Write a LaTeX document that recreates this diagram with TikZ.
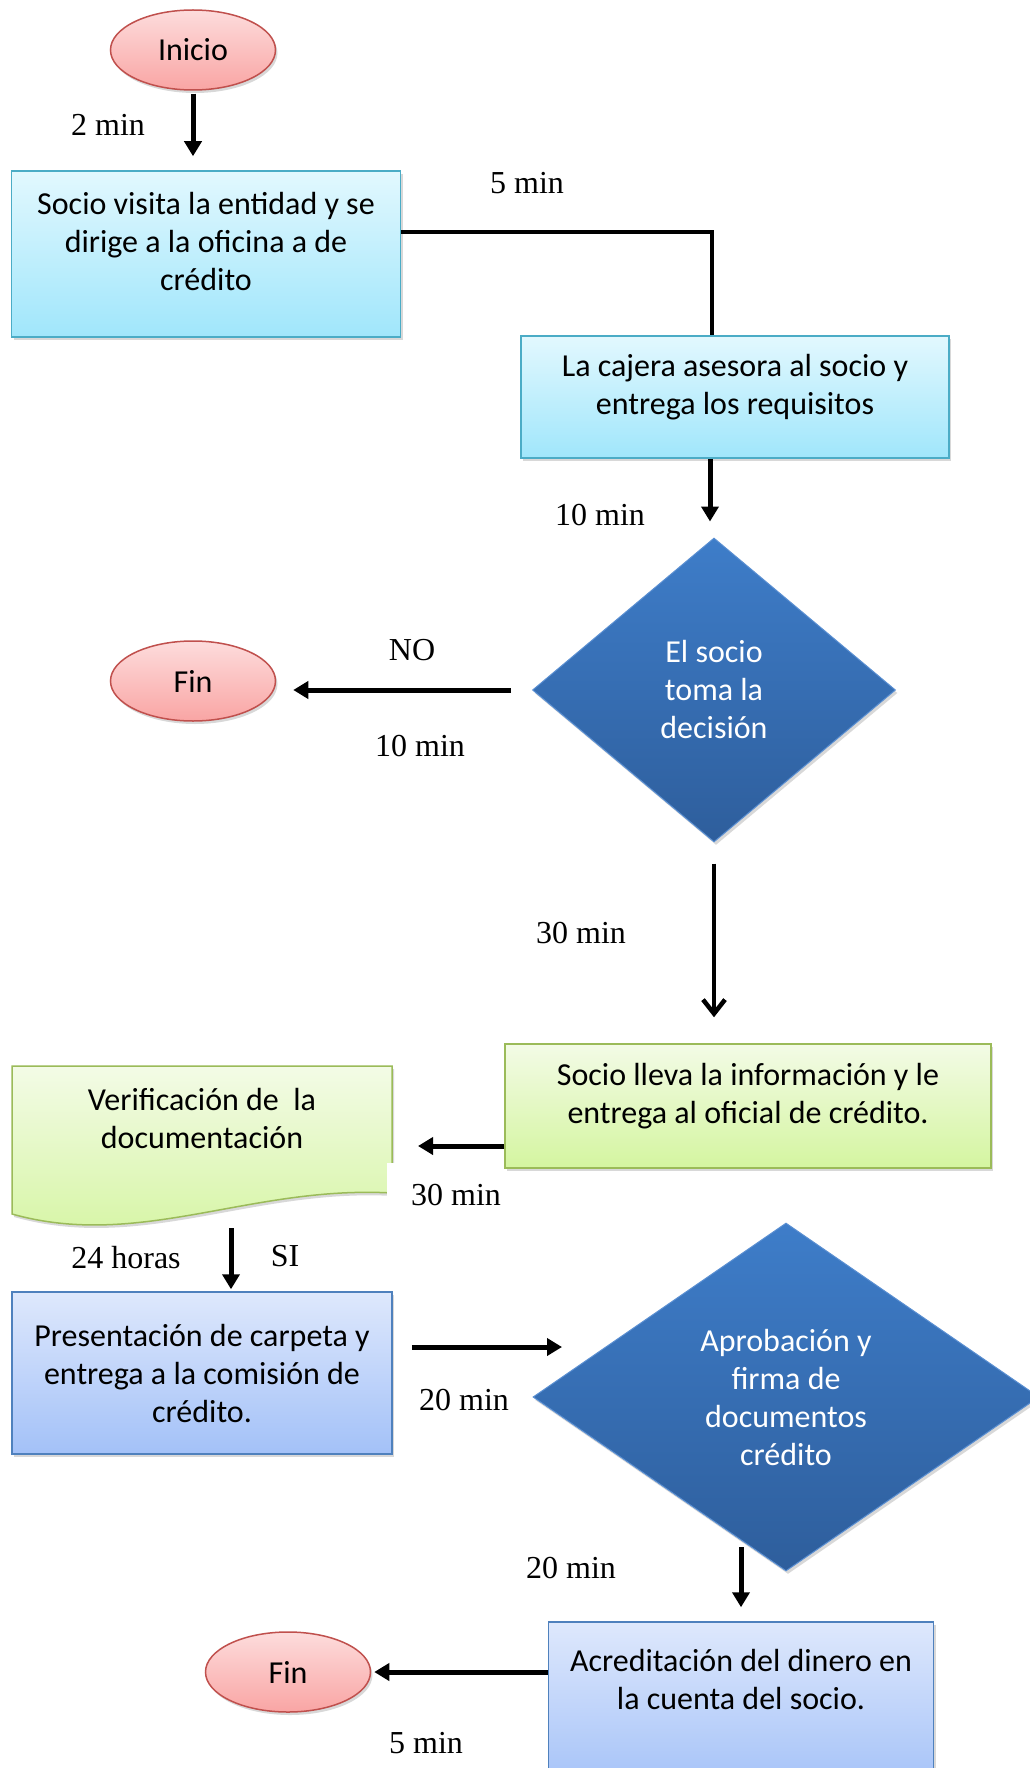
\documentclass[tikz,border=0pt]{standalone}
\usepackage{fontspec}
\setmainfont{Liberation Serif}
\newfontfamily\calibri{Carlito}
\usetikzlibrary{arrows.meta,positioning,shapes.geometric,shadows}
\definecolor{fpink}{HTML}{FDDCDC}
\definecolor{fpinkdk}{HTML}{F9A5A4}
\definecolor{fred}{HTML}{C0504D}
\definecolor{fcyan}{HTML}{E2F8FE}
\definecolor{fcyandk}{HTML}{A0E6FB}
\definecolor{fcyanbd}{HTML}{4BACC6}
\definecolor{fgreen}{HTML}{F3FBE6}
\definecolor{fgreendk}{HTML}{D4F5A0}
\definecolor{fgreenbd}{HTML}{9BBB59}
\definecolor{fblue}{HTML}{DEE8FC}
\definecolor{fbluedk}{HTML}{A3C1F8}
\definecolor{fbluebd}{HTML}{4F81BD}
\definecolor{fnavy}{HTML}{3E7DC9}
\definecolor{fnavydk}{HTML}{2E5E9C}
\definecolor{fnavybd}{HTML}{5A8FD2}

\begin{document}
\begin{tikzpicture}[x=1pt, y=-1pt,
    every node/.style={font=\fontsize{32}{38}\selectfont},
    boxshadow/.style={drop shadow={shadow xshift=2pt, shadow yshift=-3pt, opacity=0.3}},
    terminal/.style={ellipse, draw=fred, line width=1.5pt, top color=fpink, bottom color=fpinkdk, minimum width=165, minimum height=80, font=\calibri\fontsize{32}{38}\selectfont, boxshadow},
    cyanbox/.style={rectangle, draw=fcyanbd, line width=1.5pt, top color=fcyan, bottom color=fcyandk, boxshadow},
    greenbox/.style={rectangle, draw=fgreenbd, line width=1.5pt, top color=fgreen, bottom color=fgreendk, boxshadow},
    bluebox/.style={rectangle, draw=fbluebd, line width=1.5pt, top color=fblue, bottom color=fbluedk, boxshadow},
    decision/.style={diamond, draw=fnavybd, line width=1pt, top color=fnavy, bottom color=fnavydk, text=white, inner sep=0pt, align=center, font=\calibri\fontsize{32}{38}\selectfont, boxshadow},
    boxtext/.style={align=center, font=\calibri\fontsize{32}{38}\selectfont},
    arr/.style={-{Triangle[length=15pt, width=17pt]}, line width=5pt},
    barb/.style={-{Straight Barb[length=14pt, width=22pt]}, line width=4.5pt},
    conn/.style={line width=4.5pt}]
      \fill[white] (0,0) rectangle (1029,1768);
      \useasboundingbox (0,0) rectangle (1029,1768);

      % terminals
      \node[terminal] (inicio) at (193,50) {Inicio};
      \node[terminal] (fin1) at (193,681) {Fin};
      \node[terminal] (fin2) at (288,1672) {Fin};

      % document shape (its time label hides a corner of it)
      \path[draw=fgreenbd, line width=1.5pt, top color=fgreen, bottom color=fgreendk, boxshadow]
        (12,1066) -- (392,1066) -- (392,1193) .. controls (250,1185) and (140,1250) .. (12,1214) -- cycle;
      \node[boxtext] (verif) at (202,1118) {Verificación de\ \ la\\documentación};
      \node[fill=white, inner xsep=24pt, inner ysep=21pt] (t-lleva) at (456,1195) {30 min};

      % process boxes
      \node[cyanbox, minimum width=389, minimum height=166] (visita) at (206,254) {};
      \node[boxtext] (visita-t) at ([yshift=12pt]visita.center) {Socio visita la entidad y se\\dirige a la oficina a de\\crédito};
      \node[cyanbox, minimum width=428, minimum height=122] (cajera) at (735,397) {};
      \node[boxtext] (cajera-t) at ([yshift=10pt]cajera.center) {La cajera asesora al socio y\\entrega los requisitos};
      \node[greenbox, minimum width=486, minimum height=124] (lleva) at (748,1106) {};
      \node[boxtext] (lleva-t) at ([yshift=10pt]lleva.center) {Socio lleva la información y le\\entrega al oficial de crédito.};
      \node[bluebox, minimum width=380, minimum height=162] (carpeta) at (202,1373) {};
      \node[boxtext] (carpeta-t) at (carpeta.center) {Presentación de carpeta y\\entrega a la comisión de\\crédito.};
      \node[bluebox, minimum width=385, minimum height=170] (acred) at (741,1707) {};
      \node[boxtext] (acred-t) at ([yshift=28pt]acred.center) {Acreditación del dinero en\\la cuenta del socio.};

      % decisions
      \node[decision, minimum width=363, minimum height=304, shape aspect=1.19] (dec1) at (714,690) {El socio\\toma la\\decisión};
      \node[decision, minimum width=506, minimum height=348, shape aspect=1.45] (dec2) at (786,1397) {Aprobación y\\firma de\\documentos\\crédito};

      % connectors
      \coordinate (bend) at (712,232);
      \coordinate (verifin) at (418,1146);
      \coordinate (verifout) at (231,1228);
      \coordinate (aprobin) at (562,1347);
      \coordinate (aprobout) at (741,1547);
      \draw[arr, shorten <=3pt, shorten >=14pt] (inicio.south) -- (inicio.south |- visita.north);
      \draw[conn] (visita.east |- bend) -- (bend) -- (bend |- cajera.north);
      \draw[arr, shorten >=16pt] ([xshift=-25pt]cajera.south) -- ([xshift=-25pt]cajera.south |- dec1.north);
      \draw[arr, shorten <=21pt, shorten >=17pt] (dec1.west) -- (dec1.west -| fin1.east);
      \draw[barb, shorten <=21pt, shorten >=26pt] (dec1.south) -- (dec1.south |- lleva.north);
      \draw[arr] ([yshift=-40pt]lleva.west) -- (verifin);
      \draw[arr, shorten >=2pt] (verifout) -- (verifout |- carpeta.north);
      \draw[arr] ([xshift=19pt, yshift=26pt]carpeta.east) -- (aprobin);
      \draw[arr, shorten >=14pt] (aprobout) -- (aprobout |- acred.north);
      \draw[arr, shorten >=3pt] (acred.west |- fin2.east) -- (fin2.east);

      % times
      \node (t-inicio) at (108,125) {2 min};
      \node (t-visita) at (527,183) {5 min};
      \node (t-cajera) at (600,515) {10 min};
      \node (t-no) at (412,650) {NO};
      \node (t-fin1) at (420,746) {10 min};
      \node (t-dec1) at (581,933) {30 min};
      \node (t-verif) at (126,1258) {24 horas};
      \node (t-si) at (285,1256) {SI};
      \node (t-carpeta) at (464,1400) {20 min};
      \node (t-dec2) at (571,1568) {20 min};
      \node (t-acred) at (426,1743) {5 min};
    \end{tikzpicture}
\end{document}
